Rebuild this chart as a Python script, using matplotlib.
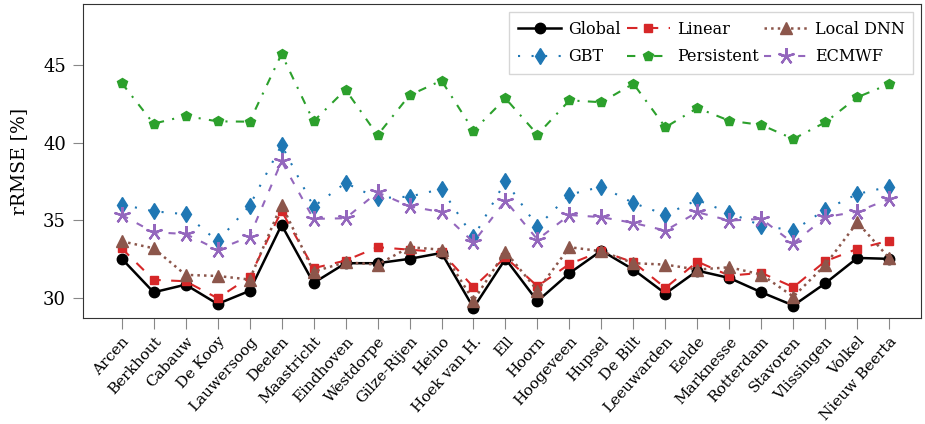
import numpy as np
from matplotlib import pyplot as plt

plt.rcParams['font.family'] = 'DejaVu Serif'

stations = ["Arcen", "Berkhout", "Cabauw", "De Kooy", "Lauwersoog", "Deelen",
            "Maastricht", "Eindhoven", "Westdorpe", "Gilze-Rijen", "Heino",
            "Hoek van H.", "Ell", "Hoorn", "Hoogeveen", "Hupsel", "De Bilt",
            "Leeuwarden", "Eelde", "Marknesse", "Rotterdam", "Stavoren",
            "Vlissingen", "Volkel", "Nieuw Beerta"]

# rRMSE per station for each model (%)
global_dnn = [32.55, 30.38, 30.87, 29.63, 30.47, 34.71, 30.98, 32.25, 32.25,
              32.53, 32.91, 29.38, 32.53, 29.81, 31.61, 33.06, 31.84, 30.30,
              31.77, 31.30, 30.38, 29.53, 30.96, 32.59, 32.53]
linear = [33.21, 31.18, 31.09, 30.00, 31.35, 35.61, 31.93, 32.42, 33.28,
          33.12, 32.96, 30.71, 32.63, 30.77, 32.20, 33.02, 32.31, 30.66,
          32.35, 31.45, 31.63, 30.71, 32.38, 33.17, 33.70]
local_dnn = [33.66, 33.21, 31.50, 31.43, 31.20, 36.02, 31.71, 32.31, 32.16,
             33.28, 33.12, 29.85, 33.00, 30.49, 33.28, 33.02, 32.25, 32.16,
             31.84, 31.99, 31.52, 30.10, 32.14, 34.88, 32.57]
gbt = [36.02, 35.59, 35.40, 33.66, 35.95, 39.85, 35.89, 37.41, 36.43,
       36.53, 37.02, 33.92, 37.52, 34.60, 36.66, 37.17, 36.12, 35.37,
       36.32, 35.48, 34.67, 34.35, 35.69, 36.70, 37.17]
persistent = [43.84, 41.22, 41.72, 41.37, 41.35, 45.70, 41.37, 43.41, 40.48,
              43.05, 43.99, 40.77, 42.85, 40.52, 42.72, 42.60, 43.79, 40.99,
              42.23, 41.41, 41.14, 40.24, 41.31, 42.92, 43.77]
ecmwf = [35.35, 34.24, 34.13, 33.12, 33.96, 38.80, 35.10, 35.14, 36.81,
         35.91, 35.53, 33.60, 36.27, 33.77, 35.35, 35.21, 34.84, 34.35,
         35.53, 34.99, 35.10, 33.53, 35.21, 35.57, 36.38]

x = np.arange(len(stations))

fig, ax = plt.subplots(figsize=(9.25, 4.24), dpi=100)

h_global, = ax.plot(x, global_dnn, color="black", lw=1.8, marker="o", ms=7.5,
                    label="Global")
h_linear, = ax.plot(x, linear, color="tab:red", lw=1.5, ls=(0, (5, 5)),
                    marker="s", ms=6, label="Linear")
h_local, = ax.plot(x, local_dnn, color="tab:brown", lw=1.8, ls=":",
                   marker="^", ms=8, label="Local DNN")
h_gbt, = ax.plot(x, gbt, color="tab:blue", lw=1.5, ls=(0, (1, 5.5)),
                 marker="d", ms=8, label="GBT")
h_pers, = ax.plot(x, persistent, color="tab:green", lw=1.5,
                  ls=(0, (4, 4, 1, 4)), marker="p", ms=7, label="Persistent")
h_ecmwf, = ax.plot(x, ecmwf, color="tab:purple", lw=1.5, ls=(0, (3.4, 4.8)),
                   marker=(5, 2, 0), ms=12, mew=1.6, label="ECMWF")

ax.set_xlim(-1.2, 25.0)
ax.set_ylim(28.7, 48.9)
ax.set_yticks([30, 35, 40, 45])
ax.set_xticks(x)
ax.set_xticklabels(stations, rotation=48, ha="right", rotation_mode="anchor")
ax.tick_params(axis="x", labelsize=11, length=8, color="#888888", pad=3.5)
ax.tick_params(axis="y", labelsize=13, length=7, color="#888888", pad=5.5)
ax.set_ylabel("rRMSE [%]", fontsize=13.5, labelpad=11)
for s in ax.spines.values():
    s.set_color("#333333")

ax.legend(handles=[h_global, h_gbt, h_linear, h_pers, h_local, h_ecmwf],
          ncol=3, loc="upper right", fontsize=11.5, handlelength=2.7,
          handletextpad=0.45, columnspacing=0.35, labelspacing=0.65,
          borderpad=0.55, fancybox=False, edgecolor="#cccccc",
          borderaxespad=0.5)

plt.subplots_adjust(left=0.09, right=0.996, bottom=0.249, top=0.99)
plt.savefig("out.png")
